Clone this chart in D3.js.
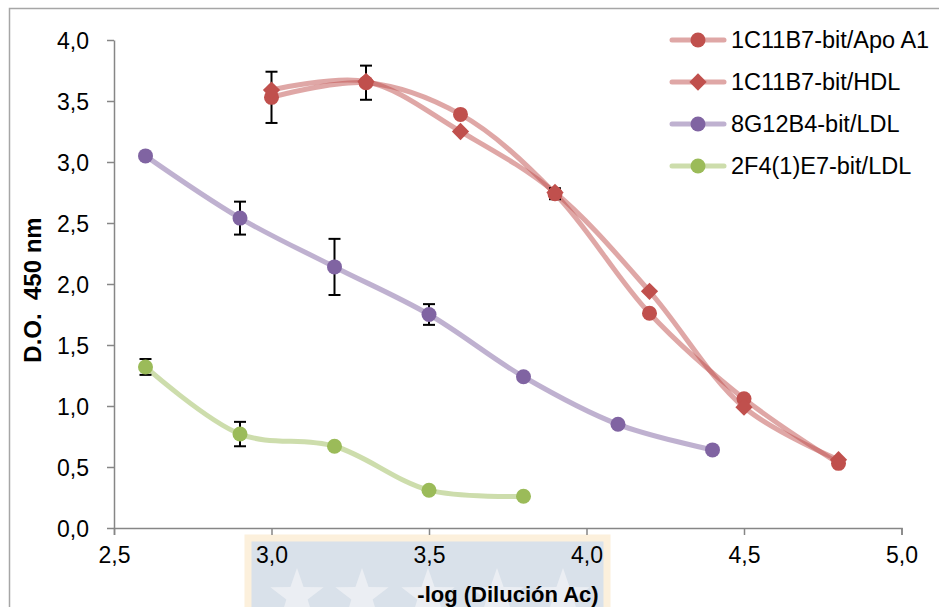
<!DOCTYPE html>
<html>
<head>
<meta charset="utf-8">
<script src="https://cdn.jsdelivr.net/npm/d3@7"></script>
<style>
  body { margin: 0; background: #fff; }
  svg { display: block; font-family: "Liberation Sans", Arial, sans-serif; }
</style>
</head>
<body>
<svg></svg>
<script>
// datos
const seriesNames = ["1C11B7-bit/Apo A1", "1C11B7-bit/HDL", "8G12B4-bit/LDL", "2F4(1)E7-bit/LDL"];

const apoX = [3.0, 3.3, 3.6, 3.9, 4.2, 4.5, 4.8];
const apoY = [3.53, 3.65, 3.39, 2.74, 1.76, 1.06, 0.53];
const apoErr = [0.21, 0.14, 0, 0.045, 0, 0, 0];

const hdlX = [3.0, 3.3, 3.6, 3.9, 4.2, 4.5, 4.8];
const hdlY = [3.59, 3.66, 3.25, 2.75, 1.94, 0.99, 0.56];
const hdlErr = [0, 0, 0, 0, 0, 0, 0];

const ldlAX = [2.6, 2.9, 3.2, 3.5, 3.8, 4.1, 4.4];
const ldlAY = [3.05, 2.54, 2.14, 1.75, 1.24, 0.85, 0.64];
const ldlAErr = [0, 0.135, 0.23, 0.085, 0, 0, 0];

const ldlBX = [2.6, 2.9, 3.2, 3.5, 3.8];
const ldlBY = [1.32, 0.77, 0.67, 0.31, 0.26];
const ldlBErr = [0.065, 0.1, 0, 0, 0];

const xTicks = [2.5, 3.0, 3.5, 4.0, 4.5, 5.0];
const yTicks = [0, 0.5, 1.0, 1.5, 2.0, 2.5, 3.0, 3.5, 4.0];

const xTitle = "-log (Dilución Ac)";
const yTitle = "D.O.\u00a0\u00a0450 nm";

let width = 939;
let height = 607;
let svg = d3.select('svg').attr('width', width).attr('height', height);

const zip = (xs, ys, es) => xs.map((x, i) => ({ x: x, y: ys[i], e: es[i] }));

const series = [
    { name: seriesNames[0], color: "#c0504d", shape: "circle", data: zip(apoX, apoY, apoErr) },
    { name: seriesNames[1], color: "#c0504d", shape: "diamond", data: zip(hdlX, hdlY, hdlErr) },
    { name: seriesNames[2], color: "#8064a2", shape: "circle", data: zip(ldlAX, ldlAY, ldlAErr) },
    { name: seriesNames[3], color: "#9bbb59", shape: "circle", data: zip(ldlBX, ldlBY, ldlBErr) }
];

let xScale = d3.scaleLinear().domain([2.5, 5.0]).range([114, 901.5]);
let yScale = d3.scaleLinear().domain([0, 4.0]).range([528, 40]);

// borde exterior del area del grafico
svg.append('path')
   .attr('d', "M9.5," + height + " V8.5 H" + width)
   .attr('fill', 'none')
   .attr('stroke', '#a6a6a6')
   .attr('stroke-width', 1.5);

// marca de agua bajo el eje x
const wm = svg.append('g').attr('id', 'watermark');
wm.append('rect')
  .attr('x', 248).attr('y', 538)
  .attr('width', 359).attr('height', 80)
  .attr('fill', '#d9e1ea')
  .attr('stroke', '#fcf0dc')
  .attr('stroke-width', 7);

const starPath = (cx, cy, r) => {
    let pts = [];
    for (let i = 0; i < 10; i++) {
        let a = -Math.PI / 2 + i * Math.PI / 5;
        let rr = i % 2 === 0 ? r : r * 0.4;
        pts.push([cx + rr * Math.cos(a), cy + rr * Math.sin(a)]);
    }
    return "M" + pts.map(p => p.join(",")).join("L") + "Z";
};
[297, 362, 428, 497, 563].forEach(cx => {
    wm.append('path')
      .attr('d', starPath(cx, 596, 28))
      .attr('fill', '#ebeef3');
});

// ejes
let xAxis = d3.axisBottom(xScale)
              .tickValues(xTicks)
              .tickSizeInner(7)
              .tickSizeOuter(7)
              .tickPadding(12)
              .tickFormat(d => d3.format(".1f")(d).replace(".", ","));
let yAxis = d3.axisLeft(yScale)
              .tickValues(yTicks)
              .tickSizeInner(7)
              .tickSizeOuter(0)
              .tickPadding(18)
              .tickFormat(d => d3.format(".1f")(d).replace(".", ","));

const gx = svg.append('g')
   .attr('id', 'x-axis')
   .attr('transform', "translate(0, 528)")
   .call(xAxis);
const gy = svg.append('g')
   .attr('id', 'y-axis')
   .attr('transform', "translate(114, 0)")
   .call(yAxis);

[gx, gy].forEach(g => {
    g.select('.domain').attr('stroke', '#868686').attr('stroke-width', 1.5);
    g.selectAll('.tick line').attr('stroke', '#868686').attr('stroke-width', 1.5);
    g.selectAll('.tick text')
     .attr('fill', '#000')
     .style('font-size', '23px')
     .style('font-family', '"Liberation Sans", Arial, sans-serif');
});
gx.selectAll('.tick text').attr('dy', '0.71em');
gy.selectAll('.tick text').attr('dy', '0.36em');

// titulos de ejes
svg.append('text')
   .attr('x', 508)
   .attr('y', 602)
   .attr('text-anchor', 'middle')
   .style('font-size', '22px')
   .style('font-weight', 'bold')
   .text(xTitle);

svg.append('text')
   .attr('transform', "translate(41, 290) rotate(-90)")
   .attr('text-anchor', 'middle')
   .style('font-size', '24px')
   .style('font-weight', 'bold')
   .text(yTitle);

// lineas suavizadas
const line = d3.line()
               .x(d => xScale(d.x))
               .y(d => yScale(d.y))
               .curve(d3.curveCatmullRom.alpha(0.5));

svg.append('g').selectAll('path')
   .data(series)
   .enter()
   .append('path')
   .attr('d', d => line(d.data))
   .attr('fill', 'none')
   .attr('stroke', d => d.color)
   .attr('stroke-opacity', 0.5)
   .attr('stroke-width', 5)
   .attr('stroke-linecap', 'round');

// barras de error
const errs = [];
series.forEach(s => s.data.forEach(d => { if (d.e > 0) errs.push(d); }));
const eg = svg.append('g').attr('stroke', '#000').attr('stroke-width', 2);
errs.forEach(d => {
    let x = xScale(d.x), y1 = yScale(d.y - d.e), y2 = yScale(d.y + d.e);
    eg.append('line').attr('x1', x).attr('x2', x).attr('y1', y1).attr('y2', y2);
    eg.append('line').attr('x1', x - 6).attr('x2', x + 6).attr('y1', y1).attr('y2', y1);
    eg.append('line').attr('x1', x - 6).attr('x2', x + 6).attr('y1', y2).attr('y2', y2);
});

// marcadores
const marker = (g, s, x, y) => {
    if (s.shape === "diamond") {
        g.append('path')
         .attr('d', d3.symbol(d3.symbolDiamond2, 190)())
         .attr('transform', "translate(" + x + "," + y + ")")
         .attr('fill', s.color);
    } else {
        g.append('circle')
         .attr('cx', x).attr('cy', y).attr('r', 7.5)
         .attr('fill', s.color);
    }
};

const mg = svg.append('g');
series.forEach(s => {
    s.data.forEach(d => marker(mg, s, xScale(d.x), yScale(d.y)));
});

// leyenda
const legend = svg.append('g').attr('id', 'legend');
series.forEach((s, i) => {
    let y = 40 + i * 42;
    legend.append('line')
          .attr('x1', 672).attr('x2', 724)
          .attr('y1', y).attr('y2', y)
          .attr('stroke', s.color)
          .attr('stroke-opacity', 0.5)
          .attr('stroke-width', 5)
          .attr('stroke-linecap', 'round');
    marker(legend, s, 698, y);
    legend.append('text')
          .attr('x', 731)
          .attr('y', y)
          .attr('dy', '0.36em')
          .style('font-size', '23.5px')
          .text(s.name);
});
</script>
</body>
</html>
